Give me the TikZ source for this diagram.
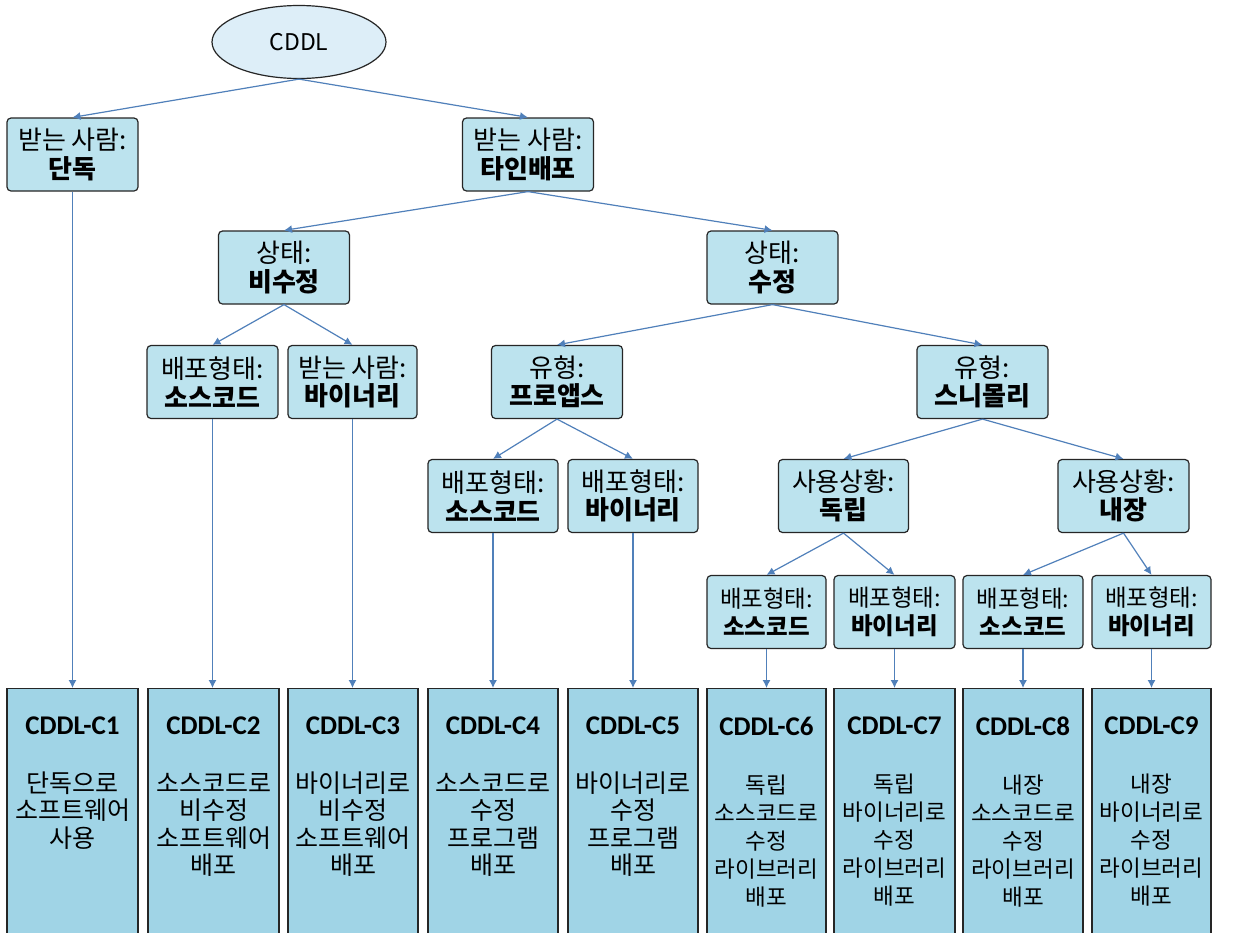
\documentclass[tikz,border=0pt]{standalone}
\usepackage{fontspec}
\setmainfont{Noto Sans CJK KR}
\newfontfamily\calfont{Carlito}
\newcommand\ttlfont{\calfont\bfseries\fontsize{27}{28}\selectfont}
\usetikzlibrary{shapes.geometric,arrows.meta}
\definecolor{boxfill}{HTML}{BCE3EE}
\definecolor{leaffill}{HTML}{A0D4E6}
\definecolor{ellfill}{HTML}{DDEEF8}
\definecolor{boxline}{HTML}{262626}
\definecolor{arrowc}{HTML}{5080BA}
\begin{document}
\begin{tikzpicture}[x=1pt,y=-1pt,
  dbox/.style={draw=boxline, fill=boxfill, rounded corners=4pt, line width=1.2pt,
    minimum width=131pt, minimum height=73pt, inner sep=0pt, align=center,
    font=\fontsize{26}{28.5}\selectfont},
  sbox/.style={dbox, minimum width=120pt, font=\fontsize{23.5}{28}\selectfont},
  leafbox/.style={draw=boxline, fill=leaffill, line width=1.2pt, minimum width=131pt,
    minimum height=262pt, anchor=north, inner sep=0pt},
  leaftext/.style={anchor=north, inner sep=0pt, align=center, font=\fontsize{25}{27.5}\selectfont},
  sleaftext/.style={leaftext, font=\fontsize{22.5}{28}\selectfont},
  conn/.style={draw=arrowc, line width=1.2pt, -{Latex[length=8pt,width=8pt]}}]
\clip (0,0) rectangle (1260,932);
\fill[white] (0,0) rectangle (1260,932);

% root
\node[ellipse, draw=boxline, fill=ellfill, line width=1.2pt, minimum width=174pt,
  minimum height=73pt, inner sep=0pt, font=\fontsize{23}{26}\selectfont] (root) at (299,42) {CDDL};

% level 1
\node[dbox] (a1) at (72.5,154.5) {받는 사람:\\\textbf{단독}};
\node[dbox] (a2) at (528,154.5) {받는 사람:\\\textbf{타인배포}};
% level 2
\node[dbox] (b1) at (284,267.5) {상태:\\\textbf{비수정}};
\node[dbox] (b2) at (772.5,267.5) {상태:\\\textbf{수정}};
% level 3
\node[dbox] (c1) at (212.5,382) {배포형태:\\\textbf{소스코드}};
\node[dbox, minimum width=129pt] (c2) at (352.5,382) {받는 사람:\\\textbf{바이너리}};
\node[dbox] (c3) at (557,382) {유형:\\\textbf{프로앱스}};
\node[dbox] (c4) at (982.5,382) {유형:\\\textbf{스니몰리}};
% level 4
\node[dbox, minimum width=130pt] (d1) at (493,496) {배포형태:\\\textbf{소스코드}};
\node[dbox, minimum width=130pt] (d2) at (633,496) {배포형태:\\\textbf{바이너리}};
\node[dbox, minimum width=130pt] (d3) at (843.5,496) {사용상황:\\\textbf{독립}};
\node[dbox] (d4) at (1123.5,496) {사용상황:\\\textbf{내장}};
% level 5
\node[sbox, minimum width=119pt] (e1) at (766.5,612) {배포형태:\\\textbf{소스코드}};
\node[sbox, minimum width=121pt] (e2) at (894.5,612) {배포형태:\\\textbf{바이너리}};
\node[sbox] (e3) at (1023,612) {배포형태:\\\textbf{소스코드}};
\node[sbox, minimum width=119pt] (e4) at (1151.5,612) {배포형태:\\\textbf{바이너리}};

% leaves
\node[leafbox] (l1) at (72.5,688) {};
\node[leafbox] (l2) at (213.5,688) {};
\node[leafbox, minimum width=130pt] (l3) at (353,688) {};
\node[leafbox, minimum width=130pt] (l4) at (493,688) {};
\node[leafbox, minimum width=130pt] (l5) at (633,688) {};
\node[leafbox, minimum width=119pt] (l6) at (766.5,688) {};
\node[leafbox, minimum width=121pt] (l7) at (894.5,688) {};
\node[leafbox, minimum width=120pt] (l8) at (1023,688) {};
\node[leafbox, minimum width=119pt] (l9) at (1151.5,688) {};

\node[leaftext] (t1) at ([yshift=-29pt]l1.north) {{\ttlfont CDDL-C1}\\[30pt]단독으로\\소프트웨어\\사용};
\node[leaftext] (t2) at ([yshift=-29pt]l2.north) {{\ttlfont CDDL-C2}\\[30pt]소스코드로\\비수정\\소프트웨어\\배포};
\node[leaftext] (t3) at ([yshift=-29pt]l3.north) {{\ttlfont CDDL-C3}\\[30pt]바이너리로\\비수정\\소프트웨어\\배포};
\node[leaftext] (t4) at ([yshift=-29pt]l4.north) {{\ttlfont CDDL-C4}\\[30pt]소스코드로\\수정\\프로그램\\배포};
\node[leaftext] (t5) at ([yshift=-29pt]l5.north) {{\ttlfont CDDL-C5}\\[30pt]바이너리로\\수정\\프로그램\\배포};
\node[sleaftext] (t6) at ([yshift=-29pt]l6.north) {{\ttlfont CDDL-C6}\\[30pt]독립\\소스코드로\\수정\\라이브러리\\배포};
\node[sleaftext] (t7) at ([yshift=-29pt]l7.north) {{\ttlfont CDDL-C7}\\[30pt]독립\\바이너리로\\수정\\라이브러리\\배포};
\node[sleaftext] (t8) at ([yshift=-29pt]l8.north) {{\ttlfont CDDL-C8}\\[30pt]내장\\소스코드로\\수정\\라이브러리\\배포};
\node[sleaftext] (t9) at ([yshift=-29pt]l9.north) {{\ttlfont CDDL-C9}\\[30pt]내장\\바이너리로\\수정\\라이브러리\\배포};

% connectors
\draw[conn] (root.south) -- (a1.north);
\draw[conn] (root.south) -- (a2.north);
\draw[conn] (a1.south) -- (l1.north);
\draw[conn] (a2.south) -- (b1.north);
\draw[conn] (a2.south) -- (b2.north);
\draw[conn] (b1.south) -- (c1.north);
\draw[conn] (b1.south) -- (c2.north);
\draw[conn] (b2.south) -- (c3.north);
\draw[conn] (b2.south) -- (c4.north);
\draw[conn] (c1.south) -- (c1.south |- l2.north);
\draw[conn] (c2.south) -- (c2.south |- l3.north);
\draw[conn] (c3.south) -- (d1.north);
\draw[conn] (c3.south) -- (d2.north);
\draw[conn] (c4.south) -- (d3.north);
\draw[conn] (c4.south) -- (d4.north);
\draw[conn] (d1.south) -- (l4.north);
\draw[conn] (d2.south) -- (l5.north);
\draw[conn] (d3.south) -- (e1.north);
\draw[conn] (d3.south) -- (e2.north);
\draw[conn] (d4.south) -- (e3.north);
\draw[conn] (d4.south) -- (e4.north);
\draw[conn] (e1.south) -- (l6.north);
\draw[conn] (e2.south) -- (l7.north);
\draw[conn] (e3.south) -- (l8.north);
\draw[conn] (e4.south) -- (l9.north);
\end{tikzpicture}
\end{document}
